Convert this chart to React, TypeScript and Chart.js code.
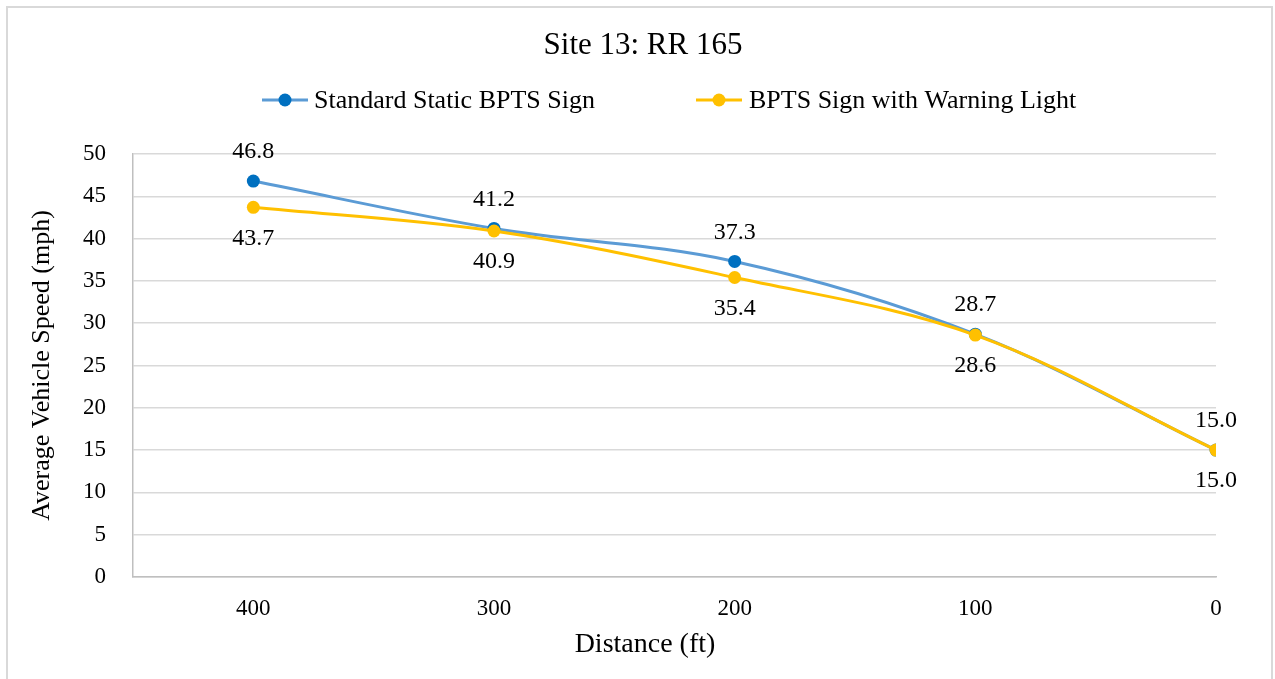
import React, { useEffect, useRef } from "react";
import { Chart, registerables } from "chart.js";

Chart.register(...registerables);

const distances = [400, 300, 200, 100, 0];
const standardSpeeds = [46.8, 41.2, 37.3, 28.7, 15.0];
const warningSpeeds = [43.7, 40.9, 35.4, 28.6, 15.0];
const chartTitle = "Site 13: RR 165";
const seriesNames = ["Standard Static BPTS Sign", "BPTS Sign with Warning Light"];
const xTitle = "Distance (ft)";
const yTitle = "Average Vehicle Speed (mph)";

const FONT = "'Liberation Serif', 'Times New Roman', serif";
const BLUE_LINE = "#5B9BD5";
const BLUE_MARK = "#0070C0";
const YELLOW = "#FFC000";

const W = 1275;
const H = 679;

export default function App() {
  const ref = useRef<HTMLCanvasElement | null>(null);

  useEffect(() => {
    document.body.style.margin = "0";
    const canvas = ref.current;
    if (!canvas) return;

    const decor = {
      id: "decor",
      afterDraw(chart: any) {
        const ctx = chart.ctx;
        ctx.save();
        ctx.fillStyle = "#000";
        ctx.textBaseline = "middle";
        ctx.textAlign = "center";
        ctx.font = `31px ${FONT}`;
        ctx.fillText(chartTitle, 643, 46);

        // legend
        const items = [
          { x: 262, tx: 314, line: BLUE_LINE, mark: BLUE_MARK, text: seriesNames[0] },
          { x: 696, tx: 749, line: YELLOW, mark: YELLOW, text: seriesNames[1] },
        ];
        ctx.font = `26px ${FONT}`;
        ctx.textAlign = "left";
        for (const it of items) {
          ctx.strokeStyle = it.line;
          ctx.lineWidth = 3;
          ctx.beginPath();
          ctx.moveTo(it.x, 100);
          ctx.lineTo(it.x + 46, 100);
          ctx.stroke();
          ctx.fillStyle = it.mark;
          ctx.beginPath();
          ctx.arc(it.x + 23, 100, 6.5, 0, Math.PI * 2);
          ctx.fill();
          ctx.fillStyle = "#000";
          ctx.fillText(it.text, it.tx, 101);
        }

        // x axis title
        ctx.textAlign = "center";
        ctx.font = `28px ${FONT}`;
        ctx.fillText(xTitle, 645, 645);

        // data labels
        ctx.font = `24px ${FONT}`;
        chart.data.datasets.forEach((ds: any, di: number) => {
          const meta = chart.getDatasetMeta(di);
          meta.data.forEach((pt: any, i: number) => {
            const v = ds.data[i].y;
            const dy = di === 0 ? -29 : 31;
            ctx.fillText(v.toFixed(1), pt.x, pt.y + dy);
          });
        });
        ctx.restore();
      },
    };

    const chart = new Chart(canvas, {
      type: "line",
      data: {
        datasets: [
          {
            label: seriesNames[0],
            data: distances.map((d, i) => ({ x: d, y: standardSpeeds[i] })),
            borderColor: BLUE_LINE,
            backgroundColor: BLUE_MARK,
            pointBackgroundColor: BLUE_MARK,
            pointBorderColor: BLUE_MARK,
            pointRadius: 6.5,
            pointBorderWidth: 0,
            borderWidth: 3,
            tension: 0.35,
            order: 1,
          },
          {
            label: seriesNames[1],
            data: distances.map((d, i) => ({ x: d, y: warningSpeeds[i] })),
            borderColor: YELLOW,
            backgroundColor: YELLOW,
            pointBackgroundColor: YELLOW,
            pointBorderColor: YELLOW,
            pointRadius: 6.5,
            pointBorderWidth: 0,
            borderWidth: 3,
            tension: 0.35,
            order: 0,
          },
        ],
      },
      options: {
        responsive: false,
        animation: false,
        layout: { padding: { top: 154, right: 59, left: 0, bottom: 0 } },
        plugins: {
          legend: { display: false },
          title: { display: false },
          tooltip: { enabled: false },
        },
        scales: {
          x: {
            type: "linear",
            reverse: true,
            min: 0,
            max: 450,
            afterFit(scale: any) {
              scale.height = 102;
            },
            ticks: {
              stepSize: 100,
              includeBounds: false,
              padding: 18,
              color: "#000",
              font: { family: FONT, size: 23 },
            },
            grid: { display: false, drawTicks: false },
            border: { display: true, color: "#bfbfbf", width: 1.5 },
          },
          y: {
            min: 0,
            max: 50,
            afterFit(scale: any) {
              scale.width = 133;
            },
            ticks: {
              stepSize: 5,
              padding: 27,
              color: "#000",
              font: { family: FONT, size: 23 },
            },
            grid: { color: "#d9d9d9", lineWidth: 1.5, drawTicks: false },
            border: { display: true, color: "#bfbfbf", width: 1.5 },
            title: {
              display: true,
              text: yTitle,
              color: "#000",
              font: { family: FONT, size: 26 },
              padding: { top: 27, bottom: 0 },
            },
          },
        },
      },
      plugins: [decor],
    });
    return () => chart.destroy();
  }, []);

  return (
    <div style={{ position: "relative", width: W, height: H, overflow: "hidden", background: "#fff" }}>
      <div
        style={{
          position: "absolute",
          left: 6,
          top: 6,
          width: W - 6 - 2,
          height: H + 10,
          border: "2px solid #d9d9d9",
          boxSizing: "border-box",
        }}
      />
      <canvas ref={ref} width={W} height={H} style={{ position: "absolute", left: 0, top: 0 }} />
    </div>
  );
}
